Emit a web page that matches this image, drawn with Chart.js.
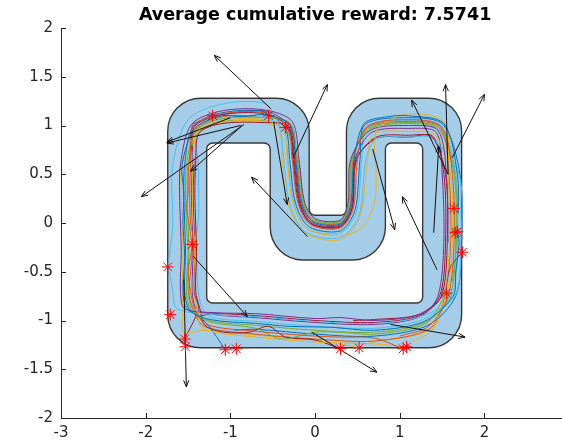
<!DOCTYPE html>
<html><head><meta charset="utf-8">
<script src="https://cdn.jsdelivr.net/npm/chart.js@4.4.0/dist/chart.umd.min.js"></script>
<style>html,body{margin:0;padding:0;background:#fff;overflow:hidden}</style>
</head><body>
<canvas id="c" width="562" height="444"></canvas>
<script>
const titleText = 'Average cumulative reward: 7.5741';
const xTicks = [-3, -2, -1, 0, 1, 2];
const yTicks = [-2, -1.5, -1, -0.5, 0, 0.5, 1, 1.5, 2];

// track boundaries (data units)
const trackOuter = [[-1.74,-1.28],[-1.74,1.28],[-0.07,1.28],[-0.07,0.08],[0.37,0.08],[0.37,1.28],[1.73,1.28],[1.73,-1.28]];
const trackInner = [[-1.28,-0.82],[-1.28,0.82],[-0.53,0.82],[-0.53,-0.38],[0.83,-0.38],[0.83,0.82],[1.27,0.82],[1.27,-0.82]];

const trajColors = ['#0072BD','#D95319','#EDB120','#7E2F8E','#77AC30','#4DBEEE','#A2142F'];

const traj01 = [[1.68,-0.09],[1.70,-0.20],[1.66,-0.50],[1.63,-0.75],[1.29,-1.01],[0.70,-1.10],[0.20,-1.07],[-0.30,-1.06],[-0.70,-1.03],[-1.24,-0.99],[-1.51,-0.88],[-1.56,-0.70],[-1.54,-0.35],[-1.56,0.00],[-1.55,0.30],[-1.57,0.60],[-1.42,0.97],[-1.10,1.10],[-0.85,1.09],[-0.60,1.11],[-0.30,1.01],[-0.23,0.65],[-0.16,0.20],[-0.02,0.01],[0.30,-0.01],[0.42,0.18],[0.46,0.65],[0.58,1.02],[0.85,1.09],[1.10,1.10],[1.52,1.02],[1.68,0.50],[1.69,0.10]];
const traj02 = [[1.04,-1.29],[0.70,-1.18],[0.30,-1.17],[0.00,-1.16],[-0.70,-1.11],[-1.29,-1.04],[-1.42,-0.88],[-1.47,-0.70],[-1.50,-0.50],[-1.46,-0.30],[-1.44,-0.15],[-1.47,0.00],[-1.48,0.30],[-1.47,0.60],[-1.44,0.99],[-1.10,1.12],[-0.60,1.13],[-0.33,0.98],[-0.27,0.65],[-0.20,0.20],[-0.05,-0.02],[0.30,-0.05],[0.45,0.15],[0.50,0.65],[0.61,0.99],[1.10,1.06],[1.49,0.99],[1.62,0.50],[1.64,-0.20],[1.57,-0.75],[1.34,-1.06],[1.00,-1.16]];
const traj03 = [[1.08,-1.27],[0.70,-1.24],[0.30,-1.23],[0.00,-1.22],[-0.70,-1.17],[-1.33,-1.08],[-1.39,-0.88],[-1.44,-0.70],[-1.42,-0.30],[-1.44,0.00],[-1.45,0.30],[-1.44,0.60],[-1.39,0.94],[-1.10,1.05],[-0.60,1.06],[-0.37,0.94],[-0.33,0.65],[-0.26,0.20],[-0.09,-0.06],[0.30,-0.13],[0.55,-0.05],[0.70,0.20],[0.72,0.55],[0.70,0.78],[0.75,0.98],[1.10,1.12],[1.53,1.03],[1.57,0.50],[1.59,-0.20],[1.52,-0.75],[1.38,-1.10],[1.15,-1.22]];
const traj04 = [[1.74,-0.30],[1.60,-0.45],[1.50,-0.75],[1.22,-0.94],[0.70,-1.00],[0.30,-0.97],[0.00,-0.98],[-0.70,-0.93],[-1.17,-0.92],[-1.54,-0.88],[-1.59,-0.70],[-1.58,-0.30],[-1.59,0.00],[-1.60,0.30],[-1.59,0.60],[-1.46,1.01],[-1.10,1.15],[-0.60,1.16],[-0.27,1.04],[-0.19,0.65],[-0.12,0.20],[0.01,0.04],[0.30,0.03],[0.39,0.21],[0.42,0.65],[0.65,0.95],[1.10,1.00],[1.45,0.95],[1.55,0.50],[1.57,-0.20]];
const traj05 = [[1.55,-0.72],[1.31,-1.03],[0.70,-1.14],[0.30,-1.12],[0.00,-1.12],[-0.40,-1.19],[-0.70,-1.08],[-1.26,-1.01],[-1.47,-0.88],[-1.52,-0.70],[-1.50,-0.30],[-1.52,0.00],[-1.53,0.30],[-1.52,0.60],[-1.40,0.95],[-1.10,1.07],[-0.60,1.08],[-0.29,1.02],[-0.21,0.65],[-0.14,0.20],[-0.01,0.02],[0.30,0.01],[0.41,0.19],[0.44,0.65],[0.63,0.97],[1.10,1.03],[1.47,0.97],[1.65,0.50],[1.67,-0.20],[1.62,-0.60]];
const traj06 = [[-1.74,-0.45],[-1.70,-0.20],[-1.68,0.00],[-1.68,0.60],[-1.50,1.06],[-1.10,1.22],[-0.60,1.23],[-0.48,1.10],[-0.40,0.91],[-0.37,0.65],[-0.30,0.20],[-0.12,-0.09],[0.30,-0.15],[0.52,0.08],[0.60,0.65],[0.73,0.87],[1.10,0.88],[1.37,0.87],[1.70,0.50],[1.72,-0.20],[1.65,-0.75],[1.24,-0.96],[0.70,-1.03],[0.00,-1.01],[-0.70,-0.96],[-1.19,-0.94],[-1.63,-0.88],[-1.68,-0.70],[-1.72,-0.50]];
const traj07 = [[0.30,-1.29],[0.00,-1.20],[-0.35,-1.17],[-0.55,-1.06],[-0.78,-1.12],[-1.08,-1.12],[-1.30,-1.05],[-1.36,-0.88],[-1.41,-0.70],[-1.40,-0.30],[-1.41,0.00],[-1.42,0.30],[-1.41,0.60],[-1.37,0.92],[-1.10,1.02],[-0.60,1.03],[-0.32,0.99],[-0.25,0.65],[-0.18,0.20],[-0.04,-0.01],[0.30,-0.03],[0.44,0.16],[0.48,0.65],[0.73,0.87],[1.10,0.88],[1.39,0.89],[1.52,0.50],[1.54,-0.20],[1.47,-0.75],[1.22,-0.94],[0.70,-0.99],[0.45,-1.00]];
const traj08 = [[-1.06,-1.30],[-1.28,-1.03],[-1.49,-0.88],[-1.54,-0.70],[-1.53,-0.30],[-1.54,0.00],[-1.55,0.30],[-1.54,0.60],[-1.44,0.99],[-1.10,1.13],[-0.60,1.14],[-0.35,0.96],[-0.30,0.65],[-0.23,0.20],[-0.07,-0.04],[0.30,-0.08],[0.47,0.13],[0.53,0.65],[0.59,1.01],[1.10,1.08],[1.51,1.01],[1.71,0.50],[1.73,-0.20],[1.66,-0.75],[1.33,-1.05],[0.70,-1.16],[0.00,-1.14],[-0.70,-1.09],[-0.95,-1.10]];
const traj09 = [[-0.55,1.10],[-0.30,1.02],[-0.22,0.65],[-0.15,0.20],[-0.02,0.02],[0.30,0.00],[0.42,0.19],[0.45,0.65],[0.62,0.98],[1.10,1.04],[1.48,0.98],[1.58,0.50],[1.60,-0.20],[1.53,-0.75],[1.36,-1.08],[0.70,-1.21],[0.00,-1.19],[-0.70,-1.14],[-1.31,-1.06],[-1.44,-0.88],[-1.49,-0.70],[-1.45,-0.30],[-1.49,0.00],[-1.52,0.15],[-1.50,0.30],[-1.49,0.60],[-1.41,0.96],[-1.10,1.09],[-0.70,1.10]];
const traj10 = [[0.52,-1.28],[0.00,-1.20],[-0.70,-1.15],[-1.30,-1.10],[-1.55,-1.12],[-1.56,-0.88],[-1.57,-0.70],[-1.56,-0.30],[-1.57,0.00],[-1.58,0.30],[-1.57,0.60],[-1.37,0.92],[-1.10,1.03],[-0.60,1.04],[-0.41,0.90],[-0.39,0.65],[-0.32,0.20],[-0.13,-0.10],[0.30,-0.17],[0.53,0.07],[0.62,0.65],[0.69,0.91],[1.10,0.94],[1.41,0.91],[1.60,0.50],[1.62,-0.20],[1.55,-0.75],[1.37,-1.09],[0.70,-1.22],[0.60,-1.24]];
const traj11 = [[-1.21,1.10],[-0.60,1.15],[-0.31,1.00],[-0.24,0.65],[-0.17,0.20],[-0.03,0.00],[0.30,-0.02],[0.43,0.17],[0.47,0.65],[0.67,0.93],[1.10,0.97],[1.43,0.93],[1.50,0.50],[1.52,-0.20],[1.45,-0.75],[1.24,-0.96],[0.70,-1.04],[0.00,-1.02],[-0.70,-0.97],[-1.19,-0.94],[-1.40,-0.88],[-1.45,-0.70],[-1.44,-0.30],[-1.45,0.00],[-1.46,0.30],[-1.45,0.60],[-1.45,1.00],[-1.35,1.05]];
const traj12 = [[-0.35,0.98],[-0.20,0.65],[-0.13,0.20],[0.00,0.03],[0.30,0.02],[0.40,0.20],[0.43,0.65],[0.64,0.96],[1.10,1.02],[1.46,0.96],[1.64,0.50],[1.66,-0.20],[1.59,-0.75],[1.30,-1.02],[0.70,-1.12],[0.00,-1.10],[-0.70,-1.05],[-1.25,-1.00],[-1.45,-0.88],[-1.50,-0.70],[-1.49,-0.30],[-1.50,0.00],[-1.51,0.30],[-1.50,0.60],[-1.38,0.93],[-1.10,1.04],[-0.60,1.05],[-0.45,1.02]];
const traj13 = [[-1.45,-0.22],[-1.38,0.00],[-1.38,0.60],[-1.40,0.95],[-1.10,1.07],[-0.60,1.08],[-0.37,0.95],[-0.32,0.65],[-0.25,0.20],[-0.09,-0.06],[0.30,-0.10],[0.49,0.12],[0.55,0.65],[0.62,0.99],[1.10,1.05],[1.49,0.99],[1.66,0.50],[1.68,-0.20],[1.61,-0.75],[1.27,-0.99],[0.70,-1.08],[0.00,-1.06],[-0.70,-1.01],[-1.22,-0.97],[-1.33,-0.88],[-1.38,-0.70],[-1.40,-0.35]];
const traj14 = [[-1.54,-1.19],[-1.38,-0.88],[-1.43,-0.70],[-1.42,-0.30],[-1.43,0.00],[-1.44,0.30],[-1.43,0.60],[-1.43,0.98],[-1.10,1.11],[-0.60,1.12],[-0.32,0.99],[-0.26,0.65],[-0.19,0.20],[-0.04,-0.01],[0.30,-0.04],[0.44,0.16],[0.49,0.65],[0.72,0.88],[1.10,0.90],[1.38,0.88],[1.54,0.50],[1.56,-0.20],[1.49,-0.75],[1.23,-0.95],[0.70,-1.02],[0.00,-1.00],[-0.70,-0.95],[-1.18,-0.93],[-1.35,-0.95]];

const crashPoints = [[-1.21,1.10],[-0.55,1.10],[-0.35,0.98],[-1.45,-0.22],[-1.74,-0.45],[-1.71,-0.94],[-1.54,-1.19],[-1.53,-1.27],[-1.06,-1.30],[-0.93,-1.29],[0.30,-1.29],[0.52,-1.28],[1.04,-1.29],[1.08,-1.27],[1.55,-0.72],[1.64,0.15],[1.68,-0.09],[1.66,-0.10],[1.74,-0.30]];

const arrowTails = [[-0.52,1.17],[-0.26,0.67],[-0.84,1.01],[-0.88,1.00],[-1.00,1.08],[-0.86,1.00],[-0.09,-0.14],[-0.49,1.04],[0.68,0.76],[1.44,-0.48],[1.57,0.50],[1.62,0.67],[1.57,0.50],[1.40,-0.10],[-1.44,-0.34],[-1.55,-0.58],[0.89,-1.04],[-0.04,-1.12]];
const arrowHeads = [[-1.19,1.72],[0.145,1.42],[-2.05,0.27],[-1.75,0.82],[-1.75,0.83],[-1.47,0.53],[-0.75,0.47],[-0.33,0.19],[0.94,-0.07],[1.03,0.27],[1.54,1.42],[2.00,1.32],[1.14,1.26],[1.46,0.79],[-0.80,-0.96],[-1.52,-1.68],[1.77,-1.17],[0.73,-1.53]];

const trajectories = [traj01,traj02,traj03,traj04,traj05,traj06,traj07,traj08,traj09,traj10,traj11,traj12,traj13,traj14];
const toXY = p => ({x: p[0], y: p[1]});

const datasets = [];
datasets.push({data: crashPoints.map(toXY), pointStyle: 'star', pointRadius: 6, borderColor: '#ff0000', backgroundColor: 'rgba(0,0,0,0)', borderWidth: 1, showLine: false, order: 0});
arrowTails.forEach((t, i) => {
  datasets.push({data: [toXY(t), toXY(arrowHeads[i])], borderColor: '#111', borderWidth: 1, pointRadius: 0, showLine: true, order: 1, isArrow: true});
});
trajectories.forEach((tr, i) => {
  datasets.push({data: tr.map(toXY), borderColor: trajColors[i % trajColors.length], borderWidth: 1, pointRadius: 0, showLine: true, tension: 0.3, order: 2 + i});
});

const BIG_R = 33, SMALL_R = 6;
function addRoundedPolygon(ctx, chart, poly, isOuter) {
  const xs = chart.scales.x, ys = chart.scales.y;
  const P = poly.map(p => [xs.getPixelForValue(p[0]), ys.getPixelForValue(p[1])]);
  const n = P.length;
  ctx.moveTo((P[n-1][0] + P[0][0]) / 2, (P[n-1][1] + P[0][1]) / 2);
  for (let i = 0; i < n; i++) {
    const prev = poly[(i - 1 + n) % n], cur = poly[i], next = poly[(i + 1) % n];
    const z = (cur[0]-prev[0])*(next[1]-cur[1]) - (cur[1]-prev[1])*(next[0]-cur[0]);
    const r = ((z < 0) === isOuter) ? BIG_R : SMALL_R;
    const nx = P[(i + 1) % n];
    ctx.arcTo(P[i][0], P[i][1], nx[0], nx[1], r);
  }
  ctx.closePath();
}

const customPlugin = {
  id: 'custom',
  beforeDatasetsDraw(chart) {
    const ctx = chart.ctx, a = chart.chartArea;
    ctx.save();
    ctx.beginPath(); ctx.rect(a.left, a.top, a.right - a.left, a.bottom - a.top); ctx.clip();
    ctx.beginPath();
    addRoundedPolygon(ctx, chart, trackOuter, true);
    addRoundedPolygon(ctx, chart, trackInner, false);
    ctx.fillStyle = '#a6cde8';
    ctx.fill('evenodd');
    ctx.strokeStyle = '#383838';
    ctx.lineWidth = 1.4;
    ctx.stroke();
    ctx.restore();
  },
  afterDatasetsDraw(chart) {
    const ctx = chart.ctx;
    ctx.save();
    chart.data.datasets.forEach((ds, i) => {
      if (!ds.isArrow) return;
      const m = chart.getDatasetMeta(i);
      const p0 = m.data[0], p1 = m.data[1];
      const ang = Math.atan2(p1.y - p0.y, p1.x - p0.x);
      const L = 7, h = 0.38;
      ctx.beginPath();
      ctx.moveTo(p1.x - L * Math.cos(ang - h), p1.y - L * Math.sin(ang - h));
      ctx.lineTo(p1.x, p1.y);
      ctx.lineTo(p1.x - L * Math.cos(ang + h), p1.y - L * Math.sin(ang + h));
      ctx.strokeStyle = '#111';
      ctx.lineWidth = 1;
      ctx.stroke();
    });
    ctx.restore();
  },
  afterDraw(chart) {
    const ctx = chart.ctx, a = chart.chartArea;
    const xs = chart.scales.x, ys = chart.scales.y;
    ctx.save();
    ctx.strokeStyle = '#262626';
    ctx.lineWidth = 1;
    ctx.beginPath();
    xTicks.forEach(v => { const px = Math.round(xs.getPixelForValue(v)) + 0.5; ctx.moveTo(px, a.bottom); ctx.lineTo(px, a.bottom - 5); });
    yTicks.forEach(v => { const py = Math.round(ys.getPixelForValue(v)) + 0.5; ctx.moveTo(a.left, py); ctx.lineTo(a.left + 5, py); });
    ctx.stroke();
    ctx.fillStyle = '#000';
    ctx.font = 'bold 17.5px "DejaVu Sans"';
    ctx.textAlign = 'center';
    ctx.textBaseline = 'middle';
    ctx.fillText(titleText, xs.getPixelForValue(0), 15);
    ctx.restore();
  }
};

new Chart(document.getElementById('c'), {
  type: 'scatter',
  data: {datasets},
  options: {
    responsive: false,
    animation: false,
    events: [],
    layout: {autoPadding: false, padding: {top: 28, right: 0, left: 0, bottom: 0}},
    plugins: {legend: {display: false}, tooltip: {enabled: false}, title: {display: false}},
    scales: {
      x: {
        type: 'linear', min: -3, max: 2.915,
        afterBuildTicks: s => { s.ticks = xTicks.map(v => ({value: v})); },
        afterFit: s => { s.height = 26; s.paddingLeft = 0; s.paddingRight = 0; },
        grid: {display: false, drawTicks: false},
        border: {display: true, color: '#262626', width: 1},
        ticks: {color: '#262626', font: {family: 'DejaVu Sans', size: 15}, padding: 6, autoSkip: false, maxRotation: 0, callback: v => String(v)}
      },
      y: {
        type: 'linear', min: -2, max: 2,
        afterBuildTicks: s => { s.ticks = yTicks.map(v => ({value: v})); },
        afterFit: s => { s.width = 61; s.paddingTop = 0; s.paddingBottom = 0; },
        grid: {display: false, drawTicks: false},
        border: {display: true, color: '#262626', width: 1},
        ticks: {color: '#262626', font: {family: 'DejaVu Sans', size: 15}, padding: 8, autoSkip: false, callback: v => String(v)}
      }
    }
  },
  plugins: [customPlugin]
});
</script>
</body></html>
